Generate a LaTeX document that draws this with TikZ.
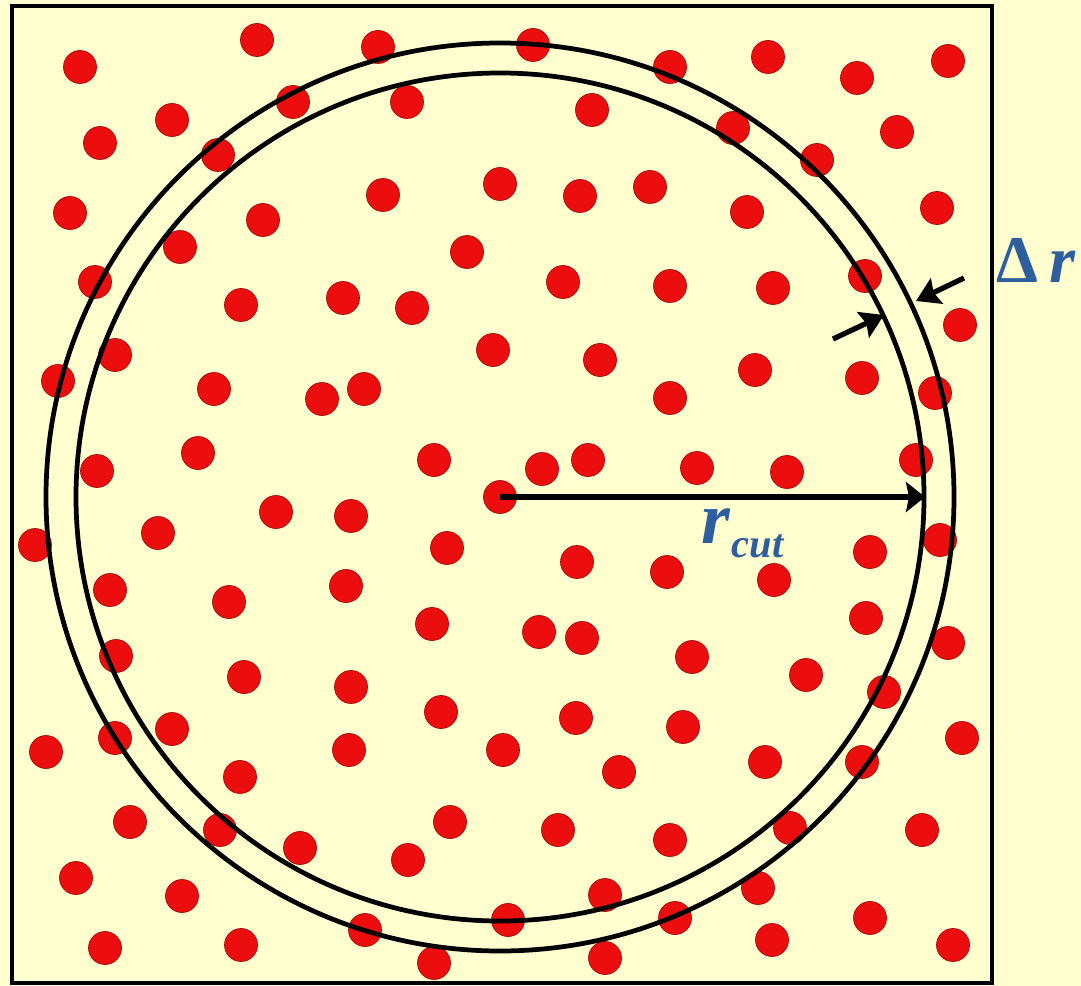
\documentclass[tikz,border=0pt]{standalone}
\usepackage{fontspec}
\usetikzlibrary{arrows.meta}
\newfontfamily\labelfont{Liberation Serif}
\definecolor{paper}{RGB}{255,255,208}
\definecolor{atomred}{RGB}{236,14,14}
\definecolor{labelblue}{RGB}{46,94,158}

\begin{document}
\begin{tikzpicture}[x=0.02cm, y=-0.02cm,
    atom/.style={circle, fill=atomred, draw=atomred!70!black, line width=0.4pt, inner sep=0pt, minimum size=0.66cm},
    shell/.style={line width=2.7pt},
    arr/.style={-{Stealth[length=0.38cm, width=0.6cm, inset=0.06cm]}, line width=3.3pt},
    skinarr/.style={-{Stealth[length=0.46cm, width=0.56cm, inset=0.07cm]}, line width=3pt},
    lbl/.style={text=labelblue, inner sep=0pt, font=\labelfont\bfseries\fontsize{38}{40}\selectfont}
]
\fill[paper] (0,0) rectangle (1081,986);
\useasboundingbox (0,0) rectangle (1081,986);

% simulation box
\draw[line width=2.2pt] (12,6) rectangle (992,983);

% particles
\foreach \px/\py [count=\i] in {
    80/67, 257/40, 378/47, 533/45, 670/67, 768/57, 857/78, 948/61,
    100/143, 172/120, 293/102, 407/102, 592/110, 733/128, 897/132, 218/155, 817/160,
    70/213, 263/220, 383/195, 500/184, 580/196, 650/187, 747/212, 937/208,
    180/247, 467/252, 95/282, 563/282, 670/286, 773/288, 865/276,
    241/305, 343/298, 412/308, 960/325,
    115/355, 493/350, 600/360, 755/370, 862/378,
    58/381, 214/389, 322/399, 364/389, 670/398, 935/393,
    198/453, 434/460, 542/469, 588/460, 697/468, 787/472, 916/460, 97/471,
    276/512, 351/516, 158/533, 35/545, 447/548, 577/562, 667/572, 774/580, 870/552, 940/540,
    110/590, 229/602, 346/586, 432/624, 539/632, 582/638, 866/618, 948/643,
    116/656, 692/657, 244/677, 351/687, 806/675, 884/692,
    441/712, 576/718, 683/727, 172/729, 115/738, 46/752, 349/750, 503/750, 962/738, 765/762, 862/762,
    619/772, 240/777,
    130/822, 220/830, 450/822, 558/830, 670/840, 790/828, 922/830, 300/848, 408/860,
    76/878, 182/896, 605/895, 758/888, 508/920, 675/918, 870/918, 365/930,
    105/948, 241/945, 434/963, 605/958, 772/940, 953/945}
    \node[atom] (a\i) at (\px,\py) {};

\node[atom] (c) at (500,497) {};

% cut-off sphere and skin
\draw[shell] (c.center) circle[radius=424];
\draw[shell] (c.center) circle[radius=454];

\coordinate (rim) at (925,497);
\draw[arr] (c.center) -- (rim);
\node[lbl, anchor=base west] (rcut) at (701,543)
    {\itshape\fontsize{42}{44}\selectfont r\kern1pt\raisebox{-8.5pt}{\fontsize{23}{25}\selectfont cut}};

% skin width
\coordinate (in1) at (964,278);
\coordinate (in2) at (916,301);
\coordinate (out1) at (833,339);
\coordinate (out2) at (884,315);
\draw[skinarr] (in1) -- (in2);
\draw[skinarr] (out1) -- (out2);
\node[lbl, anchor=base west] (dr) at (996,283) {Δ\,\itshape r};
\end{tikzpicture}
\end{document}
